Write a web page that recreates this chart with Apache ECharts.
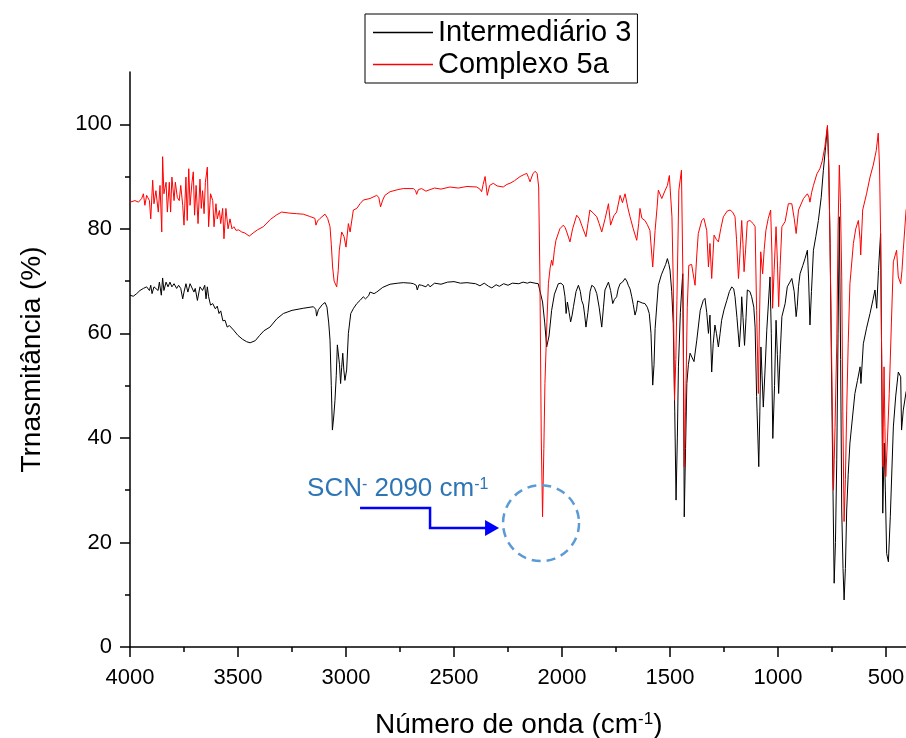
<!DOCTYPE html>
<html>
<head>
<meta charset="utf-8">
<script src="https://cdn.jsdelivr.net/npm/echarts@6/dist/echarts.min.js"></script>
<style>
  html, body { margin: 0; padding: 0; background: #fff; }
  #ir-chart { width: 906px; height: 738px; }
</style>
</head>
<body>
<div id="ir-chart"></div>
<script>
// Intermediário 3 (black)
const intermWavenumber = [
  4000, 3985, 3969, 3954, 3938, 3923, 3910, 3904, 3898, 3889, 3880, 3870, 3864, 3855, 3849, 3843, 3833, 3824, 3815, 3806,
  3796, 3784, 3775, 3765, 3756, 3750, 3741, 3732, 3722, 3713, 3704, 3698, 3688, 3676, 3664, 3654, 3648, 3642, 3636, 3627,
  3617, 3605, 3596, 3588, 3580, 3570, 3560, 3550, 3540, 3520, 3500, 3480, 3460, 3444, 3420, 3400, 3380, 3352, 3320, 3290,
  3250, 3198, 3151, 3140, 3136, 3128, 3110, 3097, 3088, 3080, 3074, 3068, 3063, 3057, 3051, 3045, 3040, 3036, 3030, 3025,
  3020, 3015, 3010, 3005, 2997, 2989, 2978, 2965, 2950, 2935, 2920, 2910, 2904, 2895, 2889, 2870, 2858, 2830, 2796, 2760,
  2735, 2700, 2688, 2675, 2670, 2662, 2650, 2642, 2630, 2620, 2611, 2590, 2560, 2530, 2500, 2470, 2440, 2400, 2380, 2360,
  2340, 2325, 2318, 2305, 2290, 2270, 2250, 2230, 2200, 2180, 2160, 2148, 2125, 2110, 2102, 2090, 2080, 2071, 2060, 2048,
  2035, 2017, 2005, 1994, 1986, 1981, 1975, 1967, 1960, 1953, 1947, 1935, 1924, 1915, 1909, 1901, 1895, 1889, 1880, 1870,
  1862, 1850, 1839, 1828, 1816, 1808, 1801, 1785, 1775, 1765, 1757, 1747, 1740, 1731, 1720, 1708, 1700, 1693, 1685, 1677,
  1670, 1662, 1655, 1650, 1639, 1628, 1616, 1605, 1596, 1588, 1580, 1574, 1569, 1560, 1554, 1540, 1531, 1520, 1512, 1505,
  1500, 1492, 1485, 1478, 1472, 1466, 1461, 1452, 1446, 1441, 1437, 1434, 1428, 1422, 1415, 1407, 1400, 1389, 1376, 1360,
  1346, 1338, 1330, 1322, 1315, 1307, 1300, 1292, 1285, 1276, 1268, 1261, 1250, 1237, 1225, 1214, 1205, 1199, 1190, 1179,
  1172, 1168, 1162, 1155, 1148, 1142, 1130, 1122, 1112, 1106, 1099, 1089, 1084, 1079, 1074, 1068, 1060, 1052, 1044, 1037,
  1031, 1024, 1016, 1009, 1003, 997, 990, 982, 967, 957, 945, 936, 925, 916, 911, 905, 898, 885, 875, 864,
  858, 852, 845, 836, 825, 813, 800, 790, 780, 771, 765, 759, 750, 740, 734, 728, 722, 716, 710, 705,
  699, 694, 688, 682, 675, 667, 655, 644, 632, 620, 616, 605, 590, 574, 560, 551, 543, 535, 525, 520,
  515, 508, 503, 497, 489, 480, 466, 455, 443, 432, 428, 420, 407, 400
];
const intermTransmit = [
  67.3, 67.1, 67.6, 68.2, 68.6, 68.9, 68.2, 69.2, 67.6, 68.9, 69.2, 68.2, 69.8, 67.3, 70.6, 68.2, 69.8, 68.9, 69.8, 68.9,
  69.5, 68.6, 69.2, 68.6, 66.6, 67.9, 69.5, 67.9, 69.5, 69.8, 67.9, 68.6, 66.3, 68.9, 68.2, 69.2, 66.6, 68.9, 67.0, 65.4,
  65.7, 64.7, 65.2, 63.8, 64.3, 62.4, 62.5, 61.2, 61.5, 60.6, 59.6, 58.9, 58.4, 58.2, 58.6, 59.6, 60.5, 61.2, 62.8, 63.8,
  64.4, 64.8, 65.1, 64.6, 63.3, 64.5, 65.5, 65.9, 65.0, 62.0, 58.7, 50.0, 41.5, 44.0, 47.2, 52.0, 57.8, 58.0, 54.0, 50.4,
  53.5, 56.2, 53.0, 51.0, 53.0, 60.0, 63.8, 64.8, 65.7, 66.3, 67.0, 66.6, 66.3, 67.2, 67.9, 67.6, 67.9, 68.8, 69.4, 69.6,
  69.7, 69.6, 69.5, 69.2, 68.3, 69.3, 69.2, 69.5, 68.9, 69.4, 68.9, 69.6, 69.4, 69.8, 69.9, 69.6, 69.7, 69.5, 69.1, 69.6,
  69.0, 68.7, 68.4, 69.3, 69.0, 69.5, 69.2, 69.6, 69.5, 69.8, 69.6, 69.8, 69.6, 69.5, 69.2, 66.0, 62.0, 57.4, 59.5, 64.4,
  67.5, 69.5, 69.6, 69.2, 67.0, 63.8, 66.0, 64.0, 62.2, 63.5, 65.1, 68.0, 69.2, 68.0, 66.3, 65.4, 63.5, 61.2, 64.0, 68.0,
  69.2, 68.8, 67.6, 65.0, 61.2, 65.0, 68.3, 69.8, 68.2, 65.7, 66.5, 67.0, 68.5, 69.5, 69.8, 70.5, 70.0, 69.2, 68.5, 67.0,
  65.5, 63.5, 64.5, 66.2, 66.0, 65.8, 65.7, 65.0, 63.8, 60.0, 50.1, 54.0, 60.9, 66.0, 69.2, 71.2, 72.1, 73.2, 74.3, 73.2,
  72.1, 68.0, 61.9, 45.0, 28.1, 40.0, 53.6, 64.0, 68.3, 71.4, 50.0, 24.9, 38.0, 50.4, 54.0, 56.2, 56.3, 54.6, 58.7, 64.4,
  66.3, 66.7, 64.0, 60.0, 63.5, 52.6, 58.0, 61.6, 60.0, 57.4, 60.0, 62.5, 64.5, 66.3, 68.0, 68.9, 68.5, 67.0, 63.0, 57.4,
  62.0, 67.0, 63.0, 57.7, 63.0, 68.3, 68.0, 67.0, 65.0, 61.2, 47.9, 34.5, 45.0, 57.4, 52.0, 45.9, 53.0, 60.6, 66.0, 70.8,
  60.0, 39.9, 50.0, 62.5, 56.0, 48.5, 56.0, 63.2, 65.7, 68.9, 69.8, 70.5, 68.0, 63.2, 65.1, 69.0, 71.4, 73.0, 74.3, 75.9,
  70.0, 61.6, 68.0, 75.9, 78.5, 81.6, 86.0, 91.2, 95.5, 99.5, 92.0, 77.2, 45.0, 12.2, 20.0, 35.8, 60.0, 82.3, 55.0, 26.2,
  15.0, 9.0, 15.0, 26.2, 33.0, 39.0, 44.0, 48.5, 51.0, 53.6, 50.4, 58.0, 61.0, 63.8, 66.5, 68.3, 64.8, 72.0, 79.1, 55.0,
  25.6, 39.0, 30.0, 17.9, 16.3, 25.0, 42.1, 48.0, 52.6, 51.7, 41.5, 45.3, 48.8, 49.5
];

// Complexo 5a (red)
const complexWavenumber = [
  4000, 3977, 3961, 3946, 3938, 3931, 3923, 3910, 3904, 3895, 3889, 3880, 3869, 3861, 3853, 3849, 3843, 3833, 3827, 3818,
  3812, 3806, 3796, 3790, 3781, 3772, 3765, 3756, 3750, 3741, 3735, 3728, 3722, 3713, 3707, 3701, 3694, 3685, 3676, 3670,
  3664, 3657, 3651, 3642, 3636, 3627, 3617, 3611, 3602, 3596, 3586, 3580, 3571, 3565, 3556, 3546, 3537, 3528, 3519, 3509,
  3497, 3483, 3468, 3448, 3430, 3410, 3383, 3350, 3320, 3298, 3260, 3230, 3198, 3170, 3144, 3139, 3132, 3120, 3097, 3085,
  3074, 3068, 3062, 3055, 3043, 3036, 3031, 3020, 3009, 3000, 2989, 2981, 2966, 2950, 2935, 2920, 2889, 2858, 2848, 2840,
  2830, 2820, 2796, 2760, 2735, 2688, 2678, 2673, 2665, 2650, 2630, 2611, 2590, 2560, 2519, 2480, 2440, 2395, 2380, 2372,
  2365, 2356, 2346, 2335, 2318, 2300, 2272, 2255, 2241, 2220, 2194, 2175, 2163, 2155, 2148, 2135, 2125, 2115, 2108, 2102,
  2096, 2090, 2084, 2079, 2070, 2063, 2055, 2048, 2043, 2035, 2028, 2010, 1994, 1985, 1978, 1963, 1951, 1940, 1932, 1920,
  1909, 1889, 1880, 1871, 1855, 1839, 1828, 1816, 1800, 1785, 1775, 1760, 1747, 1731, 1720, 1708, 1695, 1685, 1670, 1654,
  1645, 1639, 1630, 1616, 1605, 1593, 1580, 1569, 1560, 1554, 1538, 1522, 1512, 1503, 1491, 1485, 1479, 1473, 1468, 1459,
  1447, 1440, 1434, 1428, 1420, 1413, 1400, 1392, 1384, 1376, 1369, 1353, 1343, 1330, 1322, 1315, 1307, 1296, 1286, 1276,
  1265, 1253, 1235, 1222, 1210, 1199, 1192, 1183, 1175, 1168, 1162, 1157, 1150, 1142, 1130, 1115, 1106, 1099, 1091, 1086,
  1080, 1071, 1064, 1056, 1045, 1034, 1028, 1025, 1018, 1009, 1003, 997, 990, 982, 967, 952, 936, 925, 916, 905,
  882, 864, 856, 852, 844, 836, 820, 806, 795, 783, 771, 765, 759, 750, 743, 736, 728, 722, 716, 711,
  705, 700, 694, 688, 682, 675, 667, 651, 640, 628, 620, 617, 608, 590, 574, 559, 545, 536, 530, 525,
  520, 515, 509, 505, 501, 493, 485, 475, 466, 460, 451, 443, 432, 426, 420, 407, 400
];
const complexTransmit = [
  85.1, 85.4, 85.1, 85.8, 86.7, 84.5, 86.4, 85.4, 81.9, 89.3, 84.8, 87.3, 83.2, 88.3, 79.4, 93.8, 86.7, 88.9, 83.2, 88.9,
  83.2, 89.9, 85.4, 88.9, 86.0, 85.4, 88.3, 84.5, 80.7, 89.9, 81.6, 91.5, 84.5, 88.9, 90.9, 82.6, 88.3, 81.0, 89.5, 83.9,
  87.3, 82.9, 88.9, 91.8, 80.4, 86.7, 85.4, 80.4, 84.8, 81.9, 83.5, 81.0, 83.9, 78.1, 83.9, 80.0, 81.9, 80.0, 80.4, 79.7,
  79.8, 79.4, 79.2, 78.6, 79.2, 79.8, 80.4, 81.8, 82.7, 83.2, 83.0, 82.9, 82.8, 82.4, 82.0, 80.7, 81.5, 82.0, 82.8, 82.0,
  80.4, 77.0, 72.7, 70.0, 68.9, 72.0, 75.9, 79.4, 78.5, 76.5, 81.0, 79.4, 83.6, 83.9, 84.8, 85.5, 85.8, 86.4, 86.0, 84.2,
  85.5, 86.4, 87.1, 87.5, 87.7, 87.7, 87.3, 86.6, 87.5, 87.7, 87.2, 87.5, 87.8, 87.6, 88.0, 87.8, 88.1, 88.0, 87.6, 87.1,
  88.5, 90.0, 86.4, 88.3, 88.7, 88.2, 88.0, 88.5, 88.7, 89.2, 90.0, 90.4, 90.6, 89.8, 89.0, 90.5, 91.0, 90.6, 88.0, 70.0,
  40.0, 24.9, 38.0, 50.4, 62.0, 69.5, 72.5, 74.0, 73.0, 76.0, 77.8, 80.0, 80.7, 80.2, 79.4, 77.5, 80.0, 81.5, 82.6, 82.0,
  80.7, 78.5, 81.0, 83.6, 83.0, 82.3, 81.0, 79.4, 82.0, 84.8, 80.7, 82.5, 83.2, 86.4, 85.0, 86.7, 84.0, 82.3, 80.0, 77.8,
  81.0, 83.9, 82.0, 81.6, 80.8, 79.7, 72.7, 79.7, 84.0, 87.4, 85.8, 87.4, 88.3, 90.2, 82.3, 70.0, 47.2, 55.0, 66.3, 87.4,
  91.2, 70.0, 34.5, 45.0, 65.0, 73.0, 73.2, 73.0, 69.2, 75.0, 79.1, 81.6, 82.0, 79.7, 72.7, 77.2, 70.5, 78.8, 78.0, 77.5,
  80.0, 82.3, 83.4, 83.6, 83.2, 82.3, 78.0, 70.5, 76.0, 81.6, 77.0, 71.8, 76.0, 81.4, 81.6, 81.0, 80.4, 64.4, 48.5, 62.0,
  75.6, 71.4, 76.0, 79.7, 82.0, 83.6, 75.0, 64.8, 72.0, 80.4, 74.0, 65.1, 73.0, 80.4, 81.4, 84.8, 84.8, 82.0, 79.1, 83.6,
  85.8, 86.7, 86.0, 85.1, 87.0, 88.3, 90.5, 91.5, 93.0, 95.7, 99.8, 92.0, 77.2, 50.0, 30.0, 42.0, 58.0, 80.0, 92.2, 85.0,
  70.8, 45.0, 24.0, 32.0, 45.3, 58.0, 69.5, 77.2, 80.0, 81.6, 78.0, 75.0, 83.6, 86.7, 89.9, 92.2, 95.0, 98.3, 92.0, 79.1,
  55.0, 34.5, 53.6, 42.0, 32.6, 40.0, 48.5, 62.0, 73.7, 74.0, 75.9, 70.8, 69.5, 72.0, 75.9, 83.6, 84.5
];

const seriesNames = ["Intermediário 3", "Complexo 5a"];
const xMajorTicks = [4000, 3500, 3000, 2500, 2000, 1500, 1000, 500];
const xMinorTicks = [3750, 3250, 2750, 2250, 1750, 1250, 750];
const yMajorTicks = [0, 20, 40, 60, 80, 100];
const yMinorTicks = [10, 30, 50, 70, 90];

// annotation: circle around the SCN- band
const scnCenter = [2097, 23.7];

const FONT = "'Liberation Sans', Arial, sans-serif";

const zip = (xs, ys) => xs.map((x, i) => [x, ys[i]]);

const chart = echarts.init(document.getElementById("ir-chart"));

const baseX = {
  type: "value",
  inverse: true,
  min: 400,
  max: 4000,
  splitLine: { show: false },
  position: "bottom",
};
const baseY = {
  type: "value",
  min: 0,
  max: 110,
  splitLine: { show: false },
  position: "left",
};

const option = {
  animation: false,
  backgroundColor: "#fff",
  textStyle: { fontFamily: FONT },
  grid: {
    left: 130,
    top: 72,
    width: 777.6,
    height: 575,
    outerBoundsMode: "none",
  },
  legend: {
    orient: "vertical",
    left: 365,
    top: 14,
    padding: [4, 6, 4, 8],
    itemGap: 3,
    itemWidth: 60,
    itemHeight: 1.5,
    icon: "rect",
    borderColor: "#000",
    borderWidth: 1,
    data: seriesNames,
    textStyle: { fontSize: 29, color: "#000", fontFamily: FONT },
  },
  xAxis: [
    {
      ...baseX,
      name: "{a|Número de onda (cm}{s|-1}{a|)}",
      nameLocation: "middle",
      nameGap: 64,
      nameTextStyle: {
        rich: {
          a: { fontSize: 28, color: "#000", fontFamily: FONT },
          s: { fontSize: 17, color: "#000", fontFamily: FONT, verticalAlign: "top" },
        },
      },
      axisLine: { show: true, lineStyle: { color: "#000", width: 1.5 } },
      axisTick: { show: true, length: 10, customValues: xMajorTicks, lineStyle: { color: "#000", width: 1.5 } },
      axisLabel: {
        customValues: xMajorTicks,
        formatter: (v) => String(v),
        fontSize: 22,
        color: "#000",
        margin: 20,
        fontFamily: FONT,
      },
    },
    {
      ...baseX,
      axisLine: { show: false },
      axisLabel: { show: false },
      axisTick: { show: true, length: 5, customValues: xMinorTicks, lineStyle: { color: "#000", width: 1.5 } },
    },
  ],
  yAxis: [
    {
      ...baseY,
      name: "Trnasmitância (%)",
      nameLocation: "middle",
      nameGap: 84,
      nameTextStyle: { fontSize: 28, color: "#000", fontFamily: FONT },
      axisLine: { show: true, lineStyle: { color: "#000", width: 1.5 } },
      axisTick: { show: true, length: 10, customValues: yMajorTicks, lineStyle: { color: "#000", width: 1.5 } },
      axisLabel: {
        customValues: yMajorTicks,
        formatter: (v) => String(v),
        fontSize: 22,
        color: "#000",
        margin: 18,
        fontFamily: FONT,
      },
    },
    {
      ...baseY,
      axisLine: { show: false },
      axisLabel: { show: false },
      axisTick: { show: true, length: 5, customValues: yMinorTicks, lineStyle: { color: "#000", width: 1.5 } },
    },
  ],
  series: [
    {
      name: seriesNames[0],
      type: "line",
      data: zip(intermWavenumber, intermTransmit),
      symbol: "none",
      color: "#000",
      lineStyle: { width: 1, color: "#000" },
    },
    {
      name: seriesNames[1],
      type: "line",
      data: zip(complexWavenumber, complexTransmit),
      symbol: "none",
      color: "#ff0000",
      lineStyle: { width: 1, color: "#ff0000" },
    },
  ],
};

chart.setOption(option);

// annotation placed from data coordinates
const [cx, cy] = chart.convertToPixel({ xAxisIndex: 0, yAxisIndex: 0 }, scnCenter);
chart.setOption({
  graphic: [
    {
      type: "circle",
      shape: { cx, cy, r: 38 },
      style: { fill: "none", stroke: "#5B9BD5", lineWidth: 2.5, lineDash: [9, 6] },
      z: 20,
    },
    {
      type: "polyline",
      shape: { points: [[cx - 181, cy - 15], [cx - 111, cy - 15], [cx - 111, cy + 5], [cx - 55, cy + 5]] },
      style: { stroke: "#0000ff", lineWidth: 2.5, fill: "none" },
      z: 20,
    },
    {
      type: "polygon",
      shape: { points: [[cx - 56, cy - 3], [cx - 42, cy + 5], [cx - 56, cy + 13]] },
      style: { fill: "#0000ff" },
      z: 20,
    },
    {
      type: "text",
      x: cx - 234,
      y: cy - 47,
      style: {
        text: "{a|SCN}{s|-}{a| 2090 cm}{s|-1}",
        rich: {
          a: { fontSize: 26, fill: "#2E75B6", fontFamily: FONT },
          s: { fontSize: 16, fill: "#2E75B6", fontFamily: FONT, verticalAlign: "top" },
        },
      },
      z: 20,
    },
  ],
});
</script>
</body>
</html>
